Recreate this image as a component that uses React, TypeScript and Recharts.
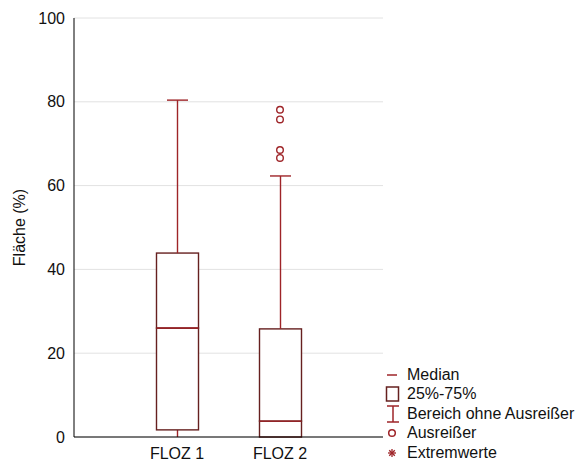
import { Bar, CartesianGrid, ComposedChart, Line, XAxis, YAxis } from "recharts"

const categories = ["FLOZ 1", "FLOZ 2"]
const minValues = [0, 0]
const q1Values = [1.7, 0]
const medianValues = [26, 3.8]
const q3Values = [43.9, 25.8]
const maxValues = [80.4, 62.3]
const outlierValues = [[], [78.1, 75.8, 68.5, 66.6]]
const yTicks = [0, 20, 40, 60, 80, 100]

const boxColor = "#66201f"
const redColor = "#9e2428"
const font = "'Liberation Sans', Arial, sans-serif"

const data = categories.map((name, i) => {
  const row: any = {
    name,
    base: minValues[i],
    lowWhisker: q1Values[i] - minValues[i],
    lowBox: medianValues[i] - q1Values[i],
    highBox: q3Values[i] - medianValues[i],
    highWhisker: maxValues[i] - q3Values[i],
  }
  outlierValues[i].forEach((v, k) => {
    row["o" + k] = v
  })
  return row
})

const WhiskerShape = (props: any) => {
  const { x, y, width, height } = props
  const cx = x + width / 2
  return <line x1={cx} x2={cx} y1={y} y2={y + height} stroke={redColor} strokeWidth={1.4} />
}

const UpperWhiskerShape = (props: any) => {
  const { x, y, width, height } = props
  const cx = x + width / 2
  return (
    <g>
      <line x1={cx} x2={cx} y1={y} y2={y + height} stroke={redColor} strokeWidth={1.4} />
      <line x1={cx - 10.5} x2={cx + 10.5} y1={y} y2={y} stroke={redColor} strokeWidth={1.4} />
    </g>
  )
}

const LowBoxShape = (props: any) => {
  const { x, y, width, height } = props
  return (
    <g>
      <rect x={x} y={y} width={width} height={height} fill="#fff" stroke={boxColor} strokeWidth={1.4} />
      <line x1={x} x2={x + width} y1={y} y2={y} stroke={redColor} strokeWidth={1.4} />
    </g>
  )
}

const HighBoxShape = (props: any) => {
  const { x, y, width, height } = props
  return (
    <g>
      <rect x={x} y={y} width={width} height={height} fill="#fff" stroke={boxColor} strokeWidth={1.4} />
      <line x1={x} x2={x + width} y1={y + height} y2={y + height} stroke={redColor} strokeWidth={1.4} />
    </g>
  )
}

const OutlierDot = (props: any) => {
  const { cx, cy, value } = props
  if (value == null || cx == null || cy == null) return <g key={props.index} />
  return <circle key={props.index} cx={cx} cy={cy} r={3.3} fill="#fff" stroke={redColor} strokeWidth={1.4} />
}

const legendItems = ["Median", "25%-75%", "Bereich ohne Ausreißer", "Ausreißer", "Extremwerte"]

const LegendIcon = ({ i }: { i: number }) => {
  if (i === 0) return <line x1={2} x2={12} y1={9} y2={9} stroke={redColor} strokeWidth={1.5} />
  if (i === 1) return <rect x={1.5} y={2} width={12} height={14} fill="#fff" stroke={boxColor} strokeWidth={1.5} />
  if (i === 2)
    return (
      <g stroke={redColor} strokeWidth={1.5}>
        <line x1={2} x2={14} y1={1} y2={1} />
        <line x1={8} x2={8} y1={1} y2={17} />
        <line x1={2} x2={14} y1={17} y2={17} />
      </g>
    )
  if (i === 3) return <circle cx={7} cy={9} r={3.3} fill="#fff" stroke={redColor} strokeWidth={1.5} />
  return (
    <g stroke={redColor} strokeWidth={1.3}>
      <line x1={3} x2={11} y1={9} y2={9} />
      <line x1={7} x2={7} y1={5} y2={13} />
      <line x1={4.2} x2={9.8} y1={6.2} y2={11.8} />
      <line x1={9.8} x2={4.2} y1={6.2} y2={11.8} />
    </g>
  )
}

export default function App() {
  return (
    <div style={{ position: "absolute", left: 0, top: 0, width: 582, height: 462, background: "#fff" }}>
      <ComposedChart
        width={582}
        height={462}
        data={data}
        margin={{ top: 18, right: 199, bottom: 0, left: 0 }}
        barSize={42}
      >
        <CartesianGrid vertical={false} stroke="#e2e2e2" />
        <XAxis
          dataKey="name"
          height={25}
          padding={{ left: 51.5, right: 51.5 }}
          tickLine={false}
          stroke="#000"
          tick={{ fill: "#111", fontSize: 16, fontFamily: font }}
          tickMargin={5}
        />
        <XAxis xAxisId="top" orientation="top" dataKey="name" height={0} tick={false} tickLine={false} stroke="#000" />
        <YAxis
          domain={[0, 100]}
          ticks={yTicks}
          width={74}
          tickLine={false}
          stroke="#000"
          tickMargin={3}
          tick={{ fill: "#111", fontSize: 16, fontFamily: font }}
          label={{
            value: "Fläche (%)",
            angle: -90,
            position: "center",
            dx: -18,
            style: { fill: "#111", fontSize: 16, fontFamily: font },
          }}
        />
        <YAxis yAxisId="right" orientation="right" domain={[0, 100]} width={0} tick={false} tickLine={false} stroke="#000" />
        <Bar dataKey="base" stackId="b" fill="none" isAnimationActive={false} />
        <Bar dataKey="lowWhisker" stackId="b" shape={WhiskerShape} isAnimationActive={false} />
        <Bar dataKey="lowBox" stackId="b" shape={LowBoxShape} isAnimationActive={false} />
        <Bar dataKey="highBox" stackId="b" shape={HighBoxShape} isAnimationActive={false} />
        <Bar dataKey="highWhisker" stackId="b" shape={UpperWhiskerShape} isAnimationActive={false} />
        {[0, 1, 2, 3].map((k) => (
          <Line
            key={k}
            dataKey={"o" + k}
            stroke="none"
            dot={OutlierDot}
            activeDot={false}
            isAnimationActive={false}
          />
        ))}
      </ComposedChart>
      <div style={{ position: "absolute", left: 385, top: 365, fontFamily: font, fontSize: 16, color: "#111" }}>
        {legendItems.map((label, i) => (
          <div key={label} style={{ display: "flex", alignItems: "center", height: 19.5, whiteSpace: "nowrap" }}>
            <svg width={20} height={18} style={{ marginRight: 2 }}>
              <LegendIcon i={i} />
            </svg>
            <span>{label}</span>
          </div>
        ))}
      </div>
    </div>
  )
}
